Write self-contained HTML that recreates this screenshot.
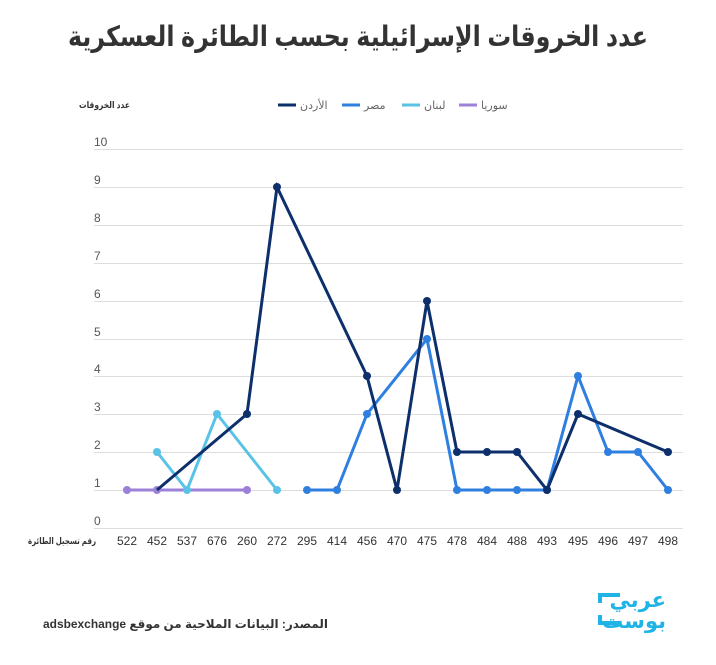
<!DOCTYPE html>
<html><head><meta charset="utf-8"><style>
body{margin:0;background:#fff;width:716px;height:660px;overflow:hidden;font-family:"Liberation Sans","Noto Sans CJK SC",sans-serif}
</style></head><body>
<svg width="716" height="660" xmlns="http://www.w3.org/2000/svg" font-family="Liberation Sans, DejaVu Sans, sans-serif">
<text x="358" y="46" text-anchor="middle" font-size="28" font-weight="bold" fill="#333" textLength="580" lengthAdjust="spacingAndGlyphs">عدد الخروقات الإسرائيلية بحسب الطائرة العسكرية</text>
<text x="130" y="108" text-anchor="end" font-size="9" font-weight="bold" fill="#333" textLength="51" lengthAdjust="spacingAndGlyphs">عدد الخروقات</text>
<g font-size="11" fill="#666">
<line x1="278" y1="105" x2="296" y2="105" stroke="#0d2f6b" stroke-width="3"/><text x="300" y="109">الأردن</text>
<line x1="342" y1="105" x2="360" y2="105" stroke="#2f7fe0" stroke-width="3"/><text x="364" y="109">مصر</text>
<line x1="402" y1="105" x2="420" y2="105" stroke="#5bc2e7" stroke-width="3"/><text x="424" y="109">لبنان</text>
<line x1="459" y1="105" x2="477" y2="105" stroke="#9d80d8" stroke-width="3"/><text x="481" y="109">سوريا</text>
</g>
<g stroke="#ddd" stroke-width="1">
<line x1="94" x2="683" y1="149.5" y2="149.5"/><line x1="94" x2="683" y1="187.5" y2="187.5"/><line x1="94" x2="683" y1="225.5" y2="225.5"/><line x1="94" x2="683" y1="263.5" y2="263.5"/><line x1="94" x2="683" y1="301.5" y2="301.5"/><line x1="94" x2="683" y1="339.5" y2="339.5"/><line x1="94" x2="683" y1="376.5" y2="376.5"/><line x1="94" x2="683" y1="414.5" y2="414.5"/><line x1="94" x2="683" y1="452.5" y2="452.5"/><line x1="94" x2="683" y1="490.5" y2="490.5"/><line x1="94" x2="683" y1="528.5" y2="528.5"/>
</g>
<g font-size="12" fill="#555">
<text x="94" y="146">10</text><text x="94" y="184">9</text><text x="94" y="222">8</text><text x="94" y="260">7</text><text x="94" y="298">6</text><text x="94" y="336">5</text><text x="94" y="373">4</text><text x="94" y="411">3</text><text x="94" y="449">2</text><text x="94" y="487">1</text><text x="94" y="525">0</text>
</g>
<text x="96" y="544" text-anchor="end" font-size="9" font-weight="bold" fill="#333" textLength="68" lengthAdjust="spacingAndGlyphs">رقم تسجيل الطائرة</text>
<g font-size="12" fill="#333" text-anchor="middle">
<text x="127" y="545">522</text><text x="157" y="545">452</text><text x="187" y="545">537</text><text x="217" y="545">676</text><text x="247" y="545">260</text><text x="277" y="545">272</text><text x="307" y="545">295</text><text x="337" y="545">414</text><text x="367" y="545">456</text><text x="397" y="545">470</text><text x="427" y="545">475</text><text x="457" y="545">478</text><text x="487" y="545">484</text><text x="517" y="545">488</text><text x="547" y="545">493</text><text x="578" y="545">495</text><text x="608" y="545">496</text><text x="638" y="545">497</text><text x="668" y="545">498</text>
</g>
<polyline fill="none" stroke="#9d80d8" stroke-width="3" points="127,490 157,490 247,490"/>
<g fill="#9d80d8"><circle cx="127" cy="490" r="4"/><circle cx="157" cy="490" r="4"/><circle cx="247" cy="490" r="4"/></g>
<polyline fill="none" stroke="#5bc2e7" stroke-width="3" points="157,452 187,490 217,414 277,490"/>
<g fill="#5bc2e7"><circle cx="157" cy="452" r="4"/><circle cx="187" cy="490" r="4"/><circle cx="217" cy="414" r="4"/><circle cx="277" cy="490" r="4"/></g>
<polyline fill="none" stroke="#2f7fe0" stroke-width="3" points="307,490 337,490 367,414 427,339 457,490 487,490 517,490 547,490 578,376 608,452 638,452 668,490"/>
<g fill="#2f7fe0"><circle cx="307" cy="490" r="4"/><circle cx="337" cy="490" r="4"/><circle cx="367" cy="414" r="4"/><circle cx="427" cy="339" r="4"/><circle cx="457" cy="490" r="4"/><circle cx="487" cy="490" r="4"/><circle cx="517" cy="490" r="4"/><circle cx="547" cy="490" r="4"/><circle cx="578" cy="376" r="4"/><circle cx="608" cy="452" r="4"/><circle cx="638" cy="452" r="4"/><circle cx="668" cy="490" r="4"/></g>
<polyline fill="none" stroke="#0d2f6b" stroke-width="3" points="157,490 247,414 277,187 367,376 397,490 427,301 457,452 487,452 517,452 547,490 578,414 668,452"/>
<g fill="#0d2f6b"><circle cx="247" cy="414" r="4"/><circle cx="277" cy="187" r="4"/><circle cx="367" cy="376" r="4"/><circle cx="397" cy="490" r="4"/><circle cx="427" cy="301" r="4"/><circle cx="457" cy="452" r="4"/><circle cx="487" cy="452" r="4"/><circle cx="517" cy="452" r="4"/><circle cx="547" cy="490" r="4"/><circle cx="578" cy="414" r="4"/><circle cx="668" cy="452" r="4"/></g>
<text x="43" y="628" font-size="12" fill="#333" font-weight="bold" textLength="285" lengthAdjust="spacingAndGlyphs"><tspan>adsbexchange</tspan> المصدر: البيانات الملاحية من موقع</text>
<g fill="#1fb3e6">
<rect x="598" y="593" width="22" height="4"/><rect x="598" y="593" width="4" height="10"/>
<rect x="598" y="615" width="4" height="10"/><rect x="598" y="621" width="22" height="4"/>
<text x="666" y="607" text-anchor="end" font-size="21" font-weight="bold">عربي</text>
<text x="666" y="628" text-anchor="end" font-size="21" font-weight="bold">بوست</text>
</g>
</svg>
</body></html>
